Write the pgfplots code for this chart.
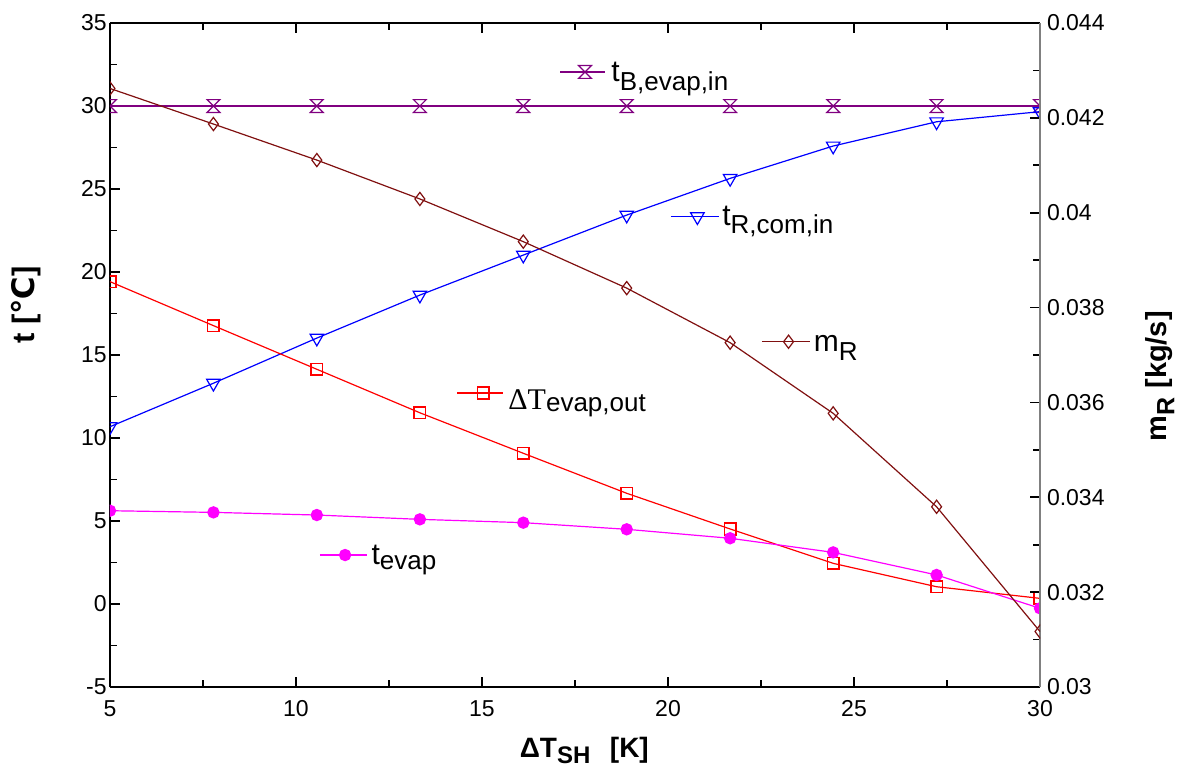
\documentclass[border=0pt]{standalone}
\usepackage{fontspec}
\setmainfont{Liberation Sans}
\newfontfamily\dejavu{DejaVu Sans}
\newfontfamily\serifT{Liberation Serif}
\usepackage{pgfplots}
\usepackage{pgfplotstable}
\pgfplotsset{compat=1.18}

\definecolor{cpurple}{RGB}{128,0,128}
\definecolor{cblue}{RGB}{0,0,255}
\definecolor{cbrown}{RGB}{128,16,16}
\definecolor{cred}{RGB}{255,0,0}
\definecolor{cmag}{RGB}{255,0,255}

\pgfdeclareplotmark{hourglass}{%
  \pgfpathmoveto{\pgfqpoint{-\pgfplotmarksize}{\pgfplotmarksize}}%
  \pgfpathlineto{\pgfqpoint{\pgfplotmarksize}{\pgfplotmarksize}}%
  \pgfpathlineto{\pgfqpoint{-\pgfplotmarksize}{-\pgfplotmarksize}}%
  \pgfpathlineto{\pgfqpoint{\pgfplotmarksize}{-\pgfplotmarksize}}%
  \pgfpathclose
  \pgfusepathqstroke}

\pgfplotstableread{
x      tB  tR     dT     te
5.00   30  10.68  19.42  5.62
7.78   30  13.30  16.77  5.52
10.56  30  16.02  14.14  5.36
13.33  30  18.61  11.52  5.10
16.11  30  21.02  9.08   4.90
18.89  30  23.43  6.67   4.50
21.67  30  25.64  4.52   3.96
24.44  30  27.59  2.45   3.11
27.22  30  29.05  1.04   1.75
30.00  30  29.66  0.34   -0.26
}\dataL

\pgfplotstableread{
x      mR
5.00   0.04262
7.78   0.04187
10.56  0.04111
13.33  0.04029
16.11  0.03939
18.89  0.03841
21.67  0.03726
24.44  0.03577
27.22  0.03380
30.00  0.03117
}\dataR

\begin{document}
\begin{tikzpicture}
\pgfplotsset{
  common/.style={
    at={(0,0)}, anchor=south west,
    scale only axis, width=465pt, height=332pt,
    xmin=5, xmax=30,
    tick align=inside,
    major tick length=5pt, minor tick length=3.5pt,
    tick style={black, line width=0.9pt},
    tick label style={font=\fontsize{11.5}{13}\selectfont},
    /pgf/number format/assume math mode=true,
    clip marker paths=true,
  }
}
\begin{axis}[
  common,
  ymin=-5, ymax=35,
  axis x line*=box, axis y line*=left,
  axis line style={line width=1pt, black, -},
  xtick={5,10,15,20,25,30},
  ytick={-5,0,5,10,15,20,25,30,35},
  minor x tick num=1, minor y tick num=1,
  xticklabel style={inner sep=0pt, yshift=-6.5pt},
  yticklabel style={inner sep=0pt, xshift=-1.5pt},
  xlabel={\fontsize{14}{16}\selectfont\bfseries ΔT\raisebox{-3pt}{\fontsize{12}{14}\selectfont SH}\hspace{0.7em}[K]},
  xlabel style={at={(axis description cs:0.51,0)}, anchor=base, yshift=-35pt},
  ylabel={\fontsize{15.5}{17}\selectfont\bfseries t [{\dejavu\bfseries ℃}]},
  ylabel style={at={(axis description cs:-0.0817,0.575)}, anchor=base},
]
\addplot[cpurple, line width=1.3pt, mark=hourglass, mark size=3.2pt,
  mark options={line width=0.6pt}] table[x=x, y=tB] {\dataL};
\addplot[cblue, line width=0.6pt, mark=triangle, mark size=3.9pt,
  mark options={rotate=180, fill=white, line width=0.6pt}] table[x=x, y=tR] {\dataL};
\addplot[cred, line width=0.6pt, mark=square, mark size=2.9pt,
  mark options={fill=white, line width=0.8pt}] table[x=x, y=dT] {\dataL};
\addplot[cmag, line width=0.6pt, mark=*, mark size=2.8pt,
  mark options={fill=cmag, draw=cmag}] table[x=x, y=te] {\dataL};

% in-plot keys
\addplot[cpurple, line width=1.3pt, mark=hourglass, mark size=3.2pt, mark indices={2},
  mark options={line width=0.6pt}, forget plot] coordinates {(17.10,32.05) (17.77,32.05) (18.31,32.05)};
\node[anchor=base west, inner sep=0pt] at (axis cs:18.47,31.46)
  {\fontsize{15}{16}\selectfont t\raisebox{-4.2pt}{\fontsize{13}{14}\selectfont B,evap,in}};

\addplot[cblue, line width=0.6pt, mark=triangle, mark size=3.9pt, mark indices={2},
  mark options={rotate=180, fill=white, line width=0.6pt}, forget plot] coordinates {(20.08,23.33) (20.79,23.33) (21.36,23.33)};
\node[anchor=base west, inner sep=0pt] at (axis cs:21.45,22.83)
  {\fontsize{15}{16}\selectfont t\raisebox{-4.2pt}{\fontsize{13}{14}\selectfont R,com,in}};

\addplot[cred, line width=0.6pt, mark=square, mark size=2.9pt, mark indices={2},
  mark options={fill=white, line width=0.8pt}, forget plot] coordinates {(14.33,12.71) (15.03,12.71) (15.56,12.71)};
\node[anchor=base west, inner sep=0pt] at (axis cs:15.70,11.69)
  {{\serifT\fontsize{15}{16}\selectfont ΔT}\raisebox{-1pt}{\fontsize{13}{14}\selectfont evap,out}};

\addplot[cmag, line width=0.6pt, mark=*, mark size=2.8pt, mark indices={2},
  mark options={fill=cmag, draw=cmag}, forget plot] coordinates {(10.645,2.95) (11.32,2.95) (11.91,2.95)};
\node[anchor=base west, inner sep=0pt] at (axis cs:12.02,2.35)
  {\fontsize{15}{16}\selectfont t\raisebox{-2.5pt}{\fontsize{13}{14}\selectfont evap}};
\end{axis}

\begin{axis}[
  common,
  ymin=0.03, ymax=0.044,
  axis x line=none, axis y line*=right,
  axis line style={line width=1pt, gray, -},
  ytick={0.03,0.032,0.034,0.036,0.038,0.04,0.042,0.044},
  minor y tick num=1,
  scaled y ticks=false,
  yticklabel style={/pgf/number format/fixed, /pgf/number format/precision=3,
    inner sep=0pt, xshift=3.3pt},
  ylabel={\fontsize{14.5}{16}\selectfont\bfseries m\raisebox{-4pt}{\fontsize{12.5}{14}\selectfont R}\hspace{0.3em}[kg/s]},
  ylabel style={at={(axis description cs:1.136,0.468)}, anchor=base},
]
\addplot[cbrown, line width=0.6pt, mark=diamond, mark size=3.3pt,
  mark options={fill=white, line width=0.6pt}] table[x=x, y=mR] {\dataR};
\addplot[cbrown, line width=0.6pt, mark=diamond, mark size=3.3pt, mark indices={2},
  mark options={fill=white, line width=0.6pt}, forget plot] coordinates {(22.52,0.03728) (23.24,0.03728) (23.82,0.03728)};
\node[anchor=base west, inner sep=0pt] at (axis cs:23.91,0.03707)
  {\fontsize{15}{16}\selectfont m\raisebox{-4.5pt}{\fontsize{13}{14}\selectfont R}};
\end{axis}

\pgfresetboundingbox
\path[use as bounding box] (-55pt,-40pt) rectangle (536pt,343.5pt);
\end{tikzpicture}
\end{document}
